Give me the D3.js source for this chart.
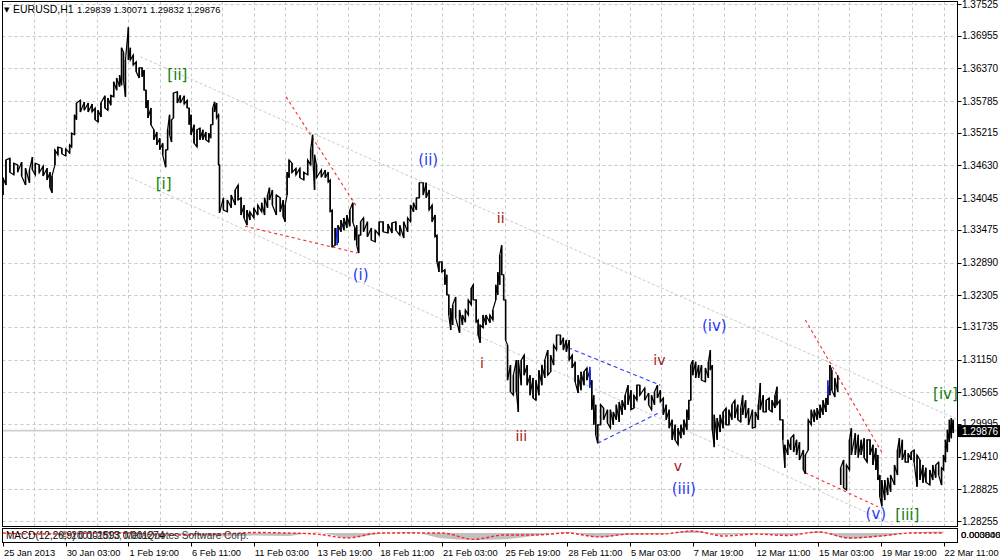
<!DOCTYPE html>
<html><head><meta charset="utf-8">
<script src="https://cdn.jsdelivr.net/npm/d3@7"></script>
<style>body{margin:0;background:#fff}svg{display:block}</style>
</head><body><svg id="c" width="1000" height="560"></svg>
<script>
// ---------------- data ----------------
const symbolTitle = "EURUSD,H1";
const headerOHLC = ["1.29839", "1.30071", "1.29832", "1.29876"];
const lastClose = 1.29876;
const priceTicks = [1.37525,1.36955,1.36370,1.35785,1.35215,1.34630,1.34045,1.33475,1.32890,1.32305,1.31735,1.31150,1.30565,1.29995,1.29410,1.28825,1.28255];
const timeTickIdx = [0,64,128,192,256,320,384,448,512,576,640,704,768,832,896,960];
const timeTickLabels = ["25 Jan 2013","30 Jan 03:00","1 Feb 19:00","6 Feb 11:00","11 Feb 03:00","13 Feb 19:00","18 Feb 11:00","21 Feb 03:00","25 Feb 19:00","28 Feb 11:00","5 Mar 03:00","7 Mar 19:00","12 Mar 11:00","15 Mar 03:00","19 Mar 19:00","22 Mar 11:00"];
const gridStep = 32; // bars between vertical grid lines

// [bar index (hours), high, low]; null = price gap
const priceBars = [
[0,1.3441,1.3410],[3,1.3473,1.3428],[7,1.3476,1.3451],[11,1.3467,1.3446],[15,1.3464,1.3451],[19,1.3469,1.3444],
[23,1.3458,1.3428],[27,1.3455,1.3432],[30,1.3478,1.3455],[33,1.3467,1.3446],[37,1.3464,1.3450],[41,1.3462,1.3444],
[45,1.3458,1.3437],[48,1.3451,1.3423],[50,1.3444,1.3414],[53,1.3491,1.3464],[56,1.3496,1.3482],[60,1.3494,1.3484],
[64,1.3493,1.3480],[68,1.3500,1.3485],[70,1.3521,1.3496],[73,1.3554,1.3518],[75,1.3575,1.3545],[79,1.3580,1.3559],
[83,1.3577,1.3562],[87,1.3575,1.3559],[91,1.3573,1.3559],[94,1.3566,1.3545],[97,1.3562,1.3541],[100,1.3575,1.3550],
[104,1.3588,1.3566],[107,1.3584,1.3562],[110,1.3589,1.3571],[113,1.3613,1.3586],[116,1.3620,1.3598],[119,1.3625,1.3604],
[121,1.3674,1.3607],[123,1.3666,1.3616],[125,1.3652,1.3586],[128,1.3711,1.3652],[130,1.3674,1.3652],[133,1.3661,1.3643],
[136,1.3649,1.3631],[139,1.3638,1.3620],[142,1.3638,1.3622],[144,1.3634,1.3598],[146,1.3598,1.3566],[148,1.3580,1.3548],
[151,1.3566,1.3536],[154,1.3527,1.3509],[157,1.3523,1.3500],[160,1.3512,1.3491],[163,1.3503,1.3482],[166,1.3491,1.3460],
[168,1.3527,1.3491],[170,1.3554,1.3518],[172,1.3545,1.3505],[174,1.3593,1.3548],[178,1.3595,1.3575],[181,1.3589,1.3575],
[185,1.3588,1.3573],[188,1.3580,1.3566],[190,1.3566,1.3536],[192,1.3554,1.3518],[195,1.3536,1.3503],[198,1.3527,1.3496],
[201,1.3530,1.3509],[204,1.3527,1.3509],[207,1.3523,1.3509],[210,1.3521,1.3505],[212,1.3536,1.3512],[214,1.3566,1.3536],
[216,1.3577,1.3559],[218,1.3575,1.3548],[220,1.3554,1.3464],[221,1.3464,1.3378],[225,1.3405,1.3383],[229,1.3401,1.3380],
[233,1.3410,1.3387],[237,1.3419,1.3392],[240,1.3428,1.3401],[243,1.3405,1.3374],[246,1.3392,1.3369],[249,1.3383,1.3356],
[252,1.3380,1.3365],[256,1.3387,1.3369],[260,1.3392,1.3374],[264,1.3396,1.3380],[267,1.3405,1.3374],[270,1.3410,1.3387],
[272,1.3423,1.3401],[275,1.3419,1.3392],[279,1.3410,1.3374],[283,1.3405,1.3380],[286,1.3401,1.3371],[288,1.3392,1.3362],
[290,1.3451,1.3410],[292,1.3473,1.3441],[295,1.3467,1.3450],[299,1.3458,1.3446],[303,1.3458,1.3441],[307,1.3451,1.3437],
[311,1.3473,1.3446],[314,1.3491,1.3464],[316,1.3518,1.3482],[318,1.3482,1.3419],[320,1.3464,1.3441],[325,1.3455,1.3442],
[329,1.3455,1.3441],[332,1.3451,1.3433],[334,1.3437,1.3380],[336,1.3383,1.3317],[339,1.3351,1.3320],[342,1.3356,1.3324],
[345,1.3365,1.3344],[348,1.3369,1.3347],[351,1.3374,1.3351],[354,1.3383,1.3354],[357,1.3396,1.3362],[359,1.3351,1.3329],
[361,1.3356,1.3320],[363,1.3338,1.3306],[365,1.3362,1.3338],[368,1.3369,1.3344],[372,1.3362,1.3335],[376,1.3351,1.3329],
[380,1.3347,1.3326],[384,1.3362,1.3338],[388,1.3362,1.3344],[393,1.3358,1.3342],[397,1.3360,1.3342],[401,1.3362,1.3347],
[405,1.3356,1.3338],[409,1.3362,1.3333],[413,1.3369,1.3344],[416,1.3392,1.3362],[419,1.3396,1.3380],[422,1.3405,1.3383],
[425,1.3432,1.3405],[429,1.3432,1.3410],[432,1.3432,1.3405],[435,1.3419,1.3383],[438,1.3392,1.3362],[441,1.3374,1.3335],
[443,1.3338,1.3290],[445,1.3290,1.3272],[448,1.3290,1.3272],[451,1.3276,1.3249],[453,1.3267,1.3231],[455,1.3231,1.3195],
[457,1.3207,1.3168],[459,1.3213,1.3177],[462,1.3227,1.3190],[466,1.3204,1.3163],[469,1.3195,1.3177],[472,1.3204,1.3182],
[475,1.3222,1.3195],[478,1.3243,1.3213],[480,1.3249,1.3222],[483,1.3222,1.3182],[485,1.3186,1.3159],[487,1.3177,1.3145],
[490,1.3195,1.3172],[493,1.3195,1.3177],[497,1.3195,1.3181],[500,1.3204,1.3186],[503,1.3249,1.3222],[505,1.3272,1.3231],
[507,1.3302,1.3249],[509,1.3320,1.3267],[511,1.3267,1.3222],[513,1.3222,1.3150],[515,1.3141,1.3078],[518,1.3105,1.3057],
[521,1.3087,1.3051],[524,1.3114,1.3057],[526,1.3114,1.3021],[529,1.3114,1.3069],[532,1.3123,1.3087],[535,1.3105,1.3069],
[538,1.3087,1.3051],[541,1.3082,1.3046],[544,1.3078,1.3042],[547,1.3096,1.3051],[550,1.3105,1.3069],[553,1.3114,1.3082],
[556,1.3132,1.3087],[559,1.3123,1.3093],[562,1.3141,1.3105],[565,1.3159,1.3132],[569,1.3159,1.3141],[572,1.3154,1.3132],
[575,1.3150,1.3129],[578,1.3150,1.3114],[581,1.3123,1.3100],[584,1.3111,1.3075],[587,1.3087,1.3055],[590,1.3093,1.3060],
[593,1.3093,1.3069],[596,1.3100,1.3078],[599,1.3096,1.3069],[601,1.3078,1.3025],[603,1.3051,1.2998],[605,1.3034,1.2980],
[607,1.2998,1.2965],[610,1.3034,1.2998],[613,1.3028,1.3007],[617,1.3025,1.3001],[620,1.3025,1.2992],[623,1.3021,1.2998],
[626,1.3034,1.3007],[629,1.3039,1.3003],[632,1.3042,1.3016],[635,1.3051,1.3025],[638,1.3069,1.3034],[641,1.3060,1.3025],
[644,1.3051,1.3028],[647,1.3069,1.3042],[650,1.3069,1.3051],[655,1.3064,1.3042],[659,1.3055,1.3034],[662,1.3051,1.3025],
[665,1.3057,1.3034],[668,1.3069,1.3046],[671,1.3060,1.3039],[674,1.3046,1.3016],[677,1.3034,1.3007],[680,1.3025,1.2992],
[683,1.3007,1.2971],[686,1.2998,1.2971],[689,1.2992,1.2962],[692,1.2998,1.2974],[695,1.3007,1.2980],[698,1.3025,1.2989],
[700,1.3042,1.3007],[702,1.3105,1.3042],[704,1.3114,1.3087],[707,1.3111,1.3082],[710,1.3105,1.3082],[713,1.3105,1.3078],
[717,1.3100,1.3075],[720,1.3111,1.3082],[722,1.3132,1.3096],[724,1.3105,1.2989],[726,1.3016,1.2958],[729,1.3010,1.2971],
[732,1.3016,1.2985],[735,1.3021,1.2992],[738,1.3028,1.2998],[741,1.3025,1.2998],[744,1.3034,1.3007],[747,1.3042,1.3010],
[750,1.3034,1.3007],[753,1.3028,1.3003],[755,1.3051,1.3016],[758,1.3042,1.3010],[761,1.3028,1.2998],[765,1.3025,1.2992],
[768,1.3021,1.2994],[771,1.3034,1.3007],[773,1.3073,1.3025],[776,1.3051,1.3021],[779,1.3042,1.3021],[782,1.3046,1.3025],
[785,1.3042,1.3021],[788,1.3051,1.3028],[790,1.3066,1.3034],[793,1.3042,1.3007],[796,1.3007,1.2971],[798,1.2962,1.2921],
[801,1.2971,1.2944],[804,1.2974,1.2953],[807,1.2980,1.2949],[810,1.2971,1.2944],[813,1.2967,1.2935],[817,1.2953,1.2917],
[819,1.2944,1.2910],[822,1.3007,1.2953],[825,1.3025,1.2998],[828,1.3025,1.3003],[831,1.3028,1.3007],[834,1.3034,1.3010],
[837,1.3042,1.3016],[840,1.3046,1.3021],[842,1.3069,1.3034],[844,1.3105,1.3051],[846,1.3096,1.3060],[849,1.3082,1.3048],
[852,1.3087,1.3057],
null,
[855,1.2921,1.2890],[858,1.2935,1.2885],[861,1.2926,1.2881],[864,1.2971,1.2917],[866,1.2992,1.2944],[870,1.2983,1.2944],
[873,1.2980,1.2939],[876,1.2971,1.2944],[879,1.2974,1.2939],[882,1.2971,1.2931],[885,1.2971,1.2944],[888,1.2962,1.2926],
[891,1.2956,1.2917],[893,1.2944,1.2899],[895,1.2908,1.2869],[897,1.2899,1.2852],[900,1.2899,1.2863],[903,1.2903,1.2872],
[906,1.2908,1.2878],[910,1.2926,1.2890],[913,1.2953,1.2908],[915,1.2974,1.2939],[918,1.2971,1.2935],[921,1.2953,1.2931],
[924,1.2947,1.2931],[927,1.2949,1.2935],[930,1.2953,1.2931],[933,1.2944,1.2887],[936,1.2935,1.2899],[939,1.2926,1.2894],
[942,1.2921,1.2895],[946,1.2917,1.2890],[949,1.2926,1.2899],[952,1.2926,1.2903],[955,1.2931,1.2908],[958,1.2921,1.2890],
[960,1.2944,1.2917],[962,1.2971,1.2931],[964,1.2989,1.2949],[966,1.3007,1.2967],[968,1.3010,1.2974],[970,1.30071,1.29832]
];

// bar segments drawn in blue inside the price line [index, high, low]
const blueMarks = [[341,1.3351,1.3320],[599,1.3102,1.3064],[842,1.3078,1.3051]];

// trend lines: [index1, price1, index2, price2]
const channelLines = [[140,1.3658,974,1.3008],[130,1.3441,910,1.2818]];
const redLines = [[289,1.3586,361,1.3389],[247,1.3354,362,1.3306],[819,1.3186,897,1.2949],[819,1.2912,893,1.2851]];
const blueLines = [[577,1.3136,671,1.3069],[607,1.2965,669,1.3019]];

// wave labels: text, bar index, price, wave degree
const waveText   = ["[i]","[ii]","[iii]","[iv]","(i)","(ii)","(iii)","(iv)","(v)","i","ii","iii","iv","v"];
const waveIdx    = [164,178,923,962,365,434,695,726,891,489,508,529,670,689];
const wavePrice  = [1.3430,1.3625,1.2836,1.3053,1.3267,1.3473,1.2883,1.3175,1.2838,1.3109,1.3369,1.2978,1.3114,1.2924];
const waveDegree = ["minor","minor","minor","minor","minute","minute","minute","minute","minute","minuette","minuette","minuette","minuette","minuette"];

// MACD(12,26,9) sub-window, sampled every 32 bars
const macdIdx    = [0,32,64,96,128,160,192,224,256,288,320,352,384,416,448,480,512,544,576,608,640,672,704,736,768,800,832,864,896,928,960];
const macdHist   = [0,-0.0005,-0.0010,0.0005,0.0010,-0.0015,-0.0020,-0.0035,-0.0025,-0.0030,0.0005,-0.0045,-0.0010,0.0010,-0.0050,-0.0065,-0.0060,-0.0025,0.0010,-0.0040,-0.0015,-0.0010,0.0025,-0.0020,-0.0005,-0.0020,0.0015,-0.0055,-0.0035,0.0005,0.0015];
const macdSignal = [0,-0.0010,-0.0010,0,0,-0.0019,-0.0019,-0.0010,0.0005,0,-0.0010,-0.0048,0,0,0,-0.0062,-0.0019,-0.0019,0,-0.0038,-0.0010,-0.0010,0.0019,-0.0029,-0.0010,-0.0024,0.0010,-0.0048,-0.0029,0,0];
const macdText = "MACD(12,26,9) 0.001593 0.001274";
const macdMax = 0.003846;
const copyrightText = "\u00A9 2001-2013, MetaQuotes Software Corp.";

// ---------------- drawing ----------------
const svg = d3.select("#c");
const AX = "'Liberation Sans', Arial, sans-serif";
const L = 2.5, R = 957.5, T = 1.5, B = 526.5;      // main window frame
const ST = 528.5, SB = 542.5;                         // sub window frame

const x = d3.scaleLinear().domain([0, 960]).range([3, 943.5]);
const y = d3.scaleLinear().domain([1.28255, 1.37525]).range([521, 4]);
const yM = d3.scaleLinear().domain([-0.0087, macdMax]).range([542, 529]);

const defs = svg.append("defs");
defs.append("clipPath").attr("id","clipMain").append("rect").attr("x",L).attr("y",T).attr("width",R-L).attr("height",B-T);
defs.append("clipPath").attr("id","clipSub").append("rect").attr("x",L).attr("y",ST).attr("width",R-L).attr("height",SB-ST);

const main = svg.append("g").attr("clip-path","url(#clipMain)");

// grid
main.selectAll(".hg").data(priceTicks).enter().append("line")
  .attr("x1",L).attr("x2",R).attr("y1",d=>Math.round(y(d))+0.5).attr("y2",d=>Math.round(y(d))+0.5)
  .attr("stroke","#c8c8c8").attr("stroke-dasharray","3,3");
main.selectAll(".vg").data(d3.range(gridStep, 961, gridStep)).enter().append("line")
  .attr("x1",d=>Math.round(x(d))+0.5).attr("x2",d=>Math.round(x(d))+0.5).attr("y1",T).attr("y2",B)
  .attr("stroke","#c8c8c8").attr("stroke-dasharray","3,3");

// bid line
main.append("line").attr("x1",L).attr("x2",R).attr("y1",y(lastClose)).attr("y2",y(lastClose))
  .attr("stroke","#cfcfcf").attr("stroke-width",1.6);

function drawLines(arr, color, dash, width){
  main.append("g").selectAll("line").data(arr).enter().append("line")
    .attr("x1",d=>x(d[0])).attr("y1",d=>y(d[1])).attr("x2",d=>x(d[2])).attr("y2",d=>y(d[3]))
    .attr("stroke",color).attr("stroke-width",width).attr("stroke-dasharray",dash);
}
drawLines(channelLines, "#cccccc", "3,2", 1);
drawLines(redLines, "#f03030", "3,3", 1.1);
drawLines(blueLines, "#2f3cf0", "4,3", 1.1);

// price path (zig-zag through bar extremes), split at gaps
const segs = [[]];
priceBars.forEach(b => { if (b === null) segs.push([]); else segs[segs.length-1].push(b); });
const line = d3.line().x(d=>x(d[0])).y(d=>y(d[1]));
segs.forEach(seg => {
  const pts = [];
  seg.forEach((b,k) => {
    const nx = seg[k+1];
    const mid = (b[1]+b[2])/2, nmid = nx ? (nx[1]+nx[2])/2 : mid;
    if (nmid < mid) { pts.push([b[0],b[1]]); pts.push([b[0],b[2]]); }
    else { pts.push([b[0],b[2]]); pts.push([b[0],b[1]]); }
  });
  main.append("path").attr("d", line(pts)).attr("fill","none").attr("stroke","#000").attr("stroke-width",1.2)
    .attr("stroke-linejoin","miter");
  main.append("g").selectAll("line").data(seg).enter().append("line")
    .attr("x1",d=>x(d[0])).attr("x2",d=>x(d[0])).attr("y1",d=>y(d[1])).attr("y2",d=>y(d[2]))
    .attr("stroke","#000").attr("stroke-width",1.5);
});
main.append("g").selectAll("line").data(blueMarks).enter().append("line")
  .attr("x1",d=>x(d[0])).attr("x2",d=>x(d[0])).attr("y1",d=>y(d[1])).attr("y2",d=>y(d[2]))
  .attr("stroke","#1a2ee8").attr("stroke-width",1.8);

// wave labels
const degColor = {minor:"#0f7f0f", minute:"#2a3cf5", minuette:"#a51515"};
const degSize = {minor:15, minute:15, minuette:14};
main.append("g").selectAll("text").data(waveText).enter().append("text")
  .attr("x",(d,i)=>x(waveIdx[i])).attr("y",(d,i)=>y(wavePrice[i]))
  .attr("text-anchor","middle").attr("dominant-baseline","central")
  .attr("font-family","'DejaVu Sans', Verdana, sans-serif")
  .attr("font-size",(d,i)=>degSize[waveDegree[i]]).attr("fill",(d,i)=>degColor[waveDegree[i]])
  .text(d=>d);

// frames
svg.append("rect").attr("x",L).attr("y",T).attr("width",R-L).attr("height",B-T).attr("fill","none").attr("stroke","#000");
svg.append("rect").attr("x",L).attr("y",ST).attr("width",R-L).attr("height",SB-ST).attr("fill","none").attr("stroke","#000");

// right price axis
const ax = svg.append("g");
ax.selectAll("line").data(priceTicks).enter().append("line")
  .attr("x1",R).attr("x2",R+4).attr("y1",d=>Math.round(y(d))+0.5).attr("y2",d=>Math.round(y(d))+0.5).attr("stroke","#000");
ax.selectAll("text").data(priceTicks).enter().append("text")
  .attr("x",962).attr("y",d=>y(d)+3.5).attr("font-family",AX).attr("font-size",10).attr("fill","#000")
  .text(d=>d.toFixed(5));
// current price box
svg.append("rect").attr("x",958).attr("y",y(lastClose)-5.5).attr("width",42).attr("height",12).attr("fill","#000");
svg.append("text").attr("x",962).attr("y",y(lastClose)+4).attr("font-family",AX).attr("font-size",10)
  .attr("fill","#fff").text(lastClose.toFixed(5));

// header
svg.append("text").attr("x",4).attr("y",12).attr("font-family","'DejaVu Sans', sans-serif").attr("font-size",7).text("\u25BC");
svg.append("text").attr("x",13).attr("y",12.5).attr("font-family",AX).attr("font-size",10.5).text(symbolTitle);
svg.append("text").attr("x",77).attr("y",12.5).attr("font-family",AX).attr("font-size",9.4).text(headerOHLC.join(" "));

// MACD sub window
const sub = svg.append("g").attr("clip-path","url(#clipSub)");
sub.append("path").datum(macdIdx.map((d,i)=>[d,macdHist[i]]))
  .attr("d", d3.area().x(d=>x(d[0])).y0(yM(0)).y1(d=>yM(d[1])).curve(d3.curveMonotoneX))
  .attr("fill","#c0c0c0");
sub.append("path").datum(macdIdx.map((d,i)=>[d,macdSignal[i]]))
  .attr("d", d3.line().x(d=>x(d[0])).y(d=>yM(d[1])).curve(d3.curveMonotoneX))
  .attr("fill","none").attr("stroke","#ff2020").attr("stroke-width",1.4).attr("stroke-dasharray","3,2");
svg.append("text").attr("x",6).attr("y",539).attr("font-family",AX).attr("font-size",10).attr("fill","#000").text(macdText);
svg.append("text").attr("x",61).attr("y",539).attr("font-family",AX).attr("font-size",10).attr("fill","#333").text(copyrightText);
svg.append("text").attr("x",961).attr("y",538).attr("font-family",AX).attr("font-size",9.5).text(macdMax.toFixed(6));
svg.append("text").attr("x",961).attr("y",538).attr("font-family",AX).attr("font-size",9.5).text("0.000000");

// bottom time axis
const bx = svg.append("g");
bx.selectAll("line").data(timeTickIdx).enter().append("line")
  .attr("x1",d=>Math.round(x(d))+0.5).attr("x2",d=>Math.round(x(d))+0.5).attr("y1",SB).attr("y2",SB+4).attr("stroke","#000");
bx.selectAll("text").data(timeTickLabels).enter().append("text")
  .attr("x",(d,i)=>x(timeTickIdx[i])+1).attr("y",556).attr("font-family",AX).attr("font-size",9.3).text(d=>d);
</script>
</body></html>
